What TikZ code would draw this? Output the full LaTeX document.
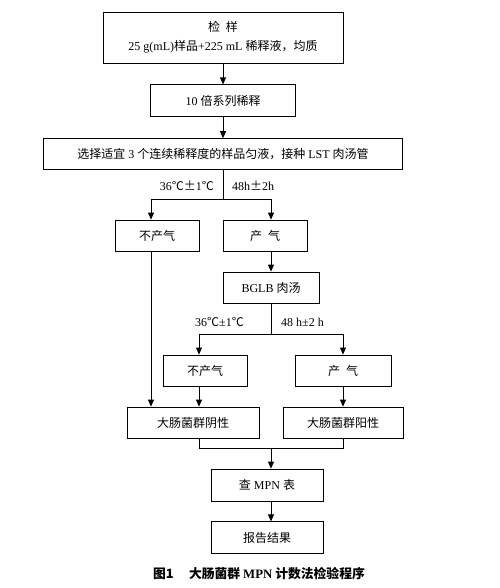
\documentclass[tikz,border=0pt]{standalone}
\usepackage{fontspec}
\setmainfont{Liberation Serif}
\newfontfamily\cjk{Noto Sans CJK SC}
\newcommand{\zh}[1]{{\cjk #1}}
\usetikzlibrary{arrows.meta}
\usetikzlibrary{positioning}

\tikzset{
  box/.style={draw, line width=0.8pt, inner sep=0pt, minimum height=31pt,
    align=center, font=\fontsize{12pt}{19pt}\selectfont},
  cond/.style={inner sep=0pt, font=\fontsize{12pt}{14pt}\selectfont},
  arr/.style={line width=0.8pt, -{Triangle[length=7pt,width=6pt]}},
  lin/.style={line width=0.8pt}
}

\begin{document}
\begin{tikzpicture}[x=1pt,y=-1pt]
        \useasboundingbox (0,0) rectangle (499,588);
        % Define nodes
        % main chain
        \node[box, minimum width=240pt, minimum height=51pt] at (223,37.5) (sample) {\zh{检\enspace 样}\\25 g(mL)\zh{样品}+225 mL \zh{稀释液，均质}}; %
        \node[box, minimum width=145pt, minimum height=32pt, below=21pt of sample] (dilute) {10 \zh{倍系列稀释}}; %
        \node[box, minimum width=359pt, below=21pt of dilute] (select) {\zh{选择适宜} 3 \zh{个连续稀释度的样品匀液，接种} LST \zh{肉汤管}}; %
        % LST result
        \node[box, minimum width=84pt] at (157,235.5) (nogasA) {\zh{不产气}}; %
        \node[box, minimum width=84pt] at (265,235.5) (gasA) {\zh{产\enspace 气}}; %
        \node[box, minimum width=96pt] at (271,287.5) (bglb) {BGLB \zh{肉汤}}; %
        % BGLB result
        \node[box, minimum width=84pt] at (205,370.5) (nogasB) {\zh{不产气}}; %
        \node[box, minimum width=96pt] at (343,370.5) (gasB) {\zh{产\enspace 气}}; %
        \node[box, minimum width=132pt] at (193,422.5) (neg) {\zh{大肠菌群阴性}}; %
        \node[box, minimum width=120pt] at (343,422.5) (pos) {\zh{大肠菌群阳性}}; %
        \node[box, minimum width=112pt, minimum height=32pt] at (267,485) (mpn) {\zh{查} MPN \zh{表}}; %
        \node[box, minimum width=112pt, minimum height=32pt, below=20pt of mpn] (report) {\zh{报告结果}}; %
        \node[font=\cjk\bfseries\fontsize{12.8pt}{14pt}\selectfont] at (259,574) (caption) {图1\hspace{1.2em}大肠菌群 {\rmfamily MPN} 计数法检验程序};

        % split points
        \coordinate (splitA) at (223,199);
        \coordinate (splitB) at (271,334);
        \coordinate (joinL) at (199,448);
        \coordinate (joinR) at (343,448);

        % conditions
        \node[cond, anchor=east] at (214,186) (tempA) {36\zh{℃}\zh{±}1\zh{℃}};
        \node[cond, anchor=west] at (232,186) (timeA) {48h\zh{±}2h};
        \node[cond, anchor=east] at (244,322) (tempB) {36\zh{℃}±1\zh{℃}};
        \node[cond, anchor=west] at (281,322) (timeB) {48 h±2 h};

        \draw[arr] (sample) -- (dilute);
        \draw[arr] (dilute) -- (select);
        \draw[lin] (select.south) -- (splitA);
        \draw[arr] (splitA) -| ([xshift=-6pt]nogasA.north);
        \draw[arr] (splitA) -| ([xshift=6pt]gasA.north);
        \draw[arr] ([xshift=6pt]gasA.south) -- (bglb.north);
        \draw[lin] (bglb.south) -- (splitB);
        \draw[arr] (splitB) -| ([xshift=-6pt]nogasB.north);
        \draw[arr] (splitB) -| (gasB.north);
        \draw[arr] ([xshift=-6pt]nogasA.south) -- ([xshift=-6pt]nogasA.south |- neg.north);
        \draw[arr] ([xshift=-6pt]nogasB.south) -- ([xshift=-6pt]nogasB.south |- neg.north);
        \draw[arr] (gasB) -- (pos);
        \draw[lin] (neg.south -| joinL) -- (joinL) -- (joinR) -- (pos.south);
        \draw[arr] ([xshift=4pt]mpn.north |- joinL) -- ([xshift=4pt]mpn.north);
        \draw[arr] ([xshift=4pt]mpn.south) -- ([xshift=4pt]report.north);
    \end{tikzpicture}
\end{document}
